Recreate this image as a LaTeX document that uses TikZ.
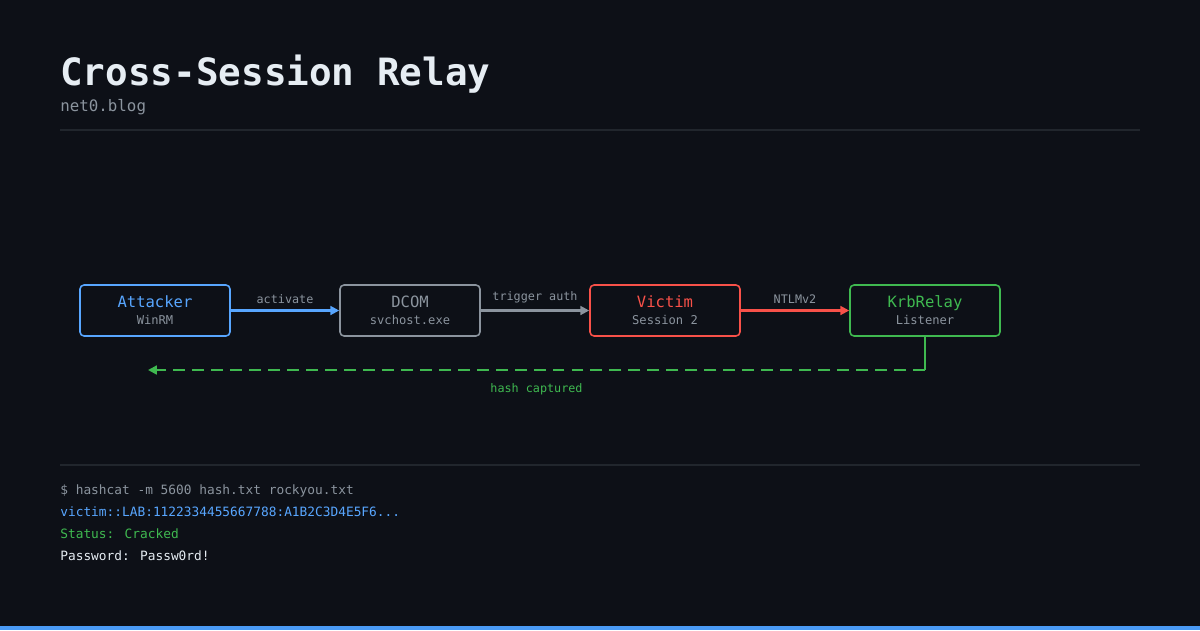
\documentclass[tikz,border=0pt]{standalone}
\usepackage{fontspec}
\setmainfont{DejaVu Sans Mono}
\usepackage{xcolor}
\usepackage{tikz}
\usetikzlibrary{arrows.meta}
\definecolor{bg}{HTML}{0D1017}
\definecolor{rule}{HTML}{21262D}
\definecolor{txt}{HTML}{E6EDF3}
\definecolor{muted}{HTML}{8B949E}
\definecolor{attk}{HTML}{58A6FF}
\definecolor{vict}{HTML}{F85149}
\definecolor{relay}{HTML}{3FB950}
\definecolor{stripe}{HTML}{4A9BF5}

\begin{document}
\begin{tikzpicture}[
  x=0.02cm,y=-0.02cm,
  font=\fontsize{6.9}{9.6}\selectfont,
  box/.style={draw,rounded corners=2.3pt,line width=0.9pt,minimum width=3cm,minimum height=1.02cm,align=center,fill=bg,inner sep=0pt,text=muted},
  lbl/.style={font=\fontsize{6.7}{8}\selectfont,text=muted,inner sep=2pt},
  term/.style={anchor=base west,inner sep=0pt,font=\fontsize{7.3}{9}\selectfont},
  arr/.style={-{Triangle[length=5pt,width=5pt]},line width=1.2pt}
]
% page
\fill[bg] (0,0) rectangle (1200,630);
\fill[stripe] (0,626) rectangle (1200,630);

% header
\node[anchor=base west,inner sep=0pt,text=txt,font=\fontsize{21.4}{24}\selectfont\bfseries] (title) at (60,85) {Cross-Session Relay};
\node[anchor=base west,inner sep=0pt,text=muted,font=\fontsize{9}{11}\selectfont] (sub) at (60,111) {net0.blog};
\draw[rule,line width=0.6pt] (60,130) -- (1140,130);

% chain
\node[box,draw=attk]  (atk)  at (155,310.5) {\textcolor{attk}{\fontsize{8.85}{9.6}\selectfont Attacker}\\WinRM};
\node[box,draw=muted,minimum width=2.8cm] (dcom) at (410,310.5) {\textcolor{muted}{\fontsize{8.85}{9.6}\selectfont DCOM}\\svchost.exe};
\node[box,draw=vict]  (vic)  at (665,310.5) {\textcolor{vict}{\fontsize{8.85}{9.6}\selectfont Victim}\\Session 2};
\node[box,draw=relay] (krb)  at (925,310.5) {\textcolor{relay}{\fontsize{8.85}{9.6}\selectfont KrbRelay}\\Listener};

\draw[arr,attk]  (atk)  -- node[lbl,above=1.5pt]{activate} (dcom);
\draw[arr,muted] (dcom) -- node[lbl,above=1.5pt]{trigger auth} (vic);
\draw[arr,vict]  (vic)  -- node[lbl,above=1.5pt]{NTLMv2} (krb);

% hash goes back
\coordinate (lvl) at (0,370);
\coordinate (bend) at (krb.south |- lvl);
\coordinate (back) at (148,370);
\draw[relay,line width=1.2pt] (krb.south) -- (bend);
\draw[arr,relay,dash pattern=on 6.8pt off 4pt] (bend) -- node[lbl,text=relay,below=5pt]{hash captured} (back);

% terminal
\draw[rule,line width=0.6pt] (60,465) -- (1140,465);
\node[term,text=muted] (cmd)  at (60,494) {\$ hashcat -m 5600 hash.txt rockyou.txt};
\node[term,text=attk]  (hash) at (60,516) {victim::LAB:1122334455667788:A1B2C3D4E5F6...};
\node[term,text=relay] (stat) at (60,538) {Status: Cracked};
\node[term,text=txt]   (pw)   at (60,560) {Password: Passw0rd!};
\end{tikzpicture}
\end{document}
